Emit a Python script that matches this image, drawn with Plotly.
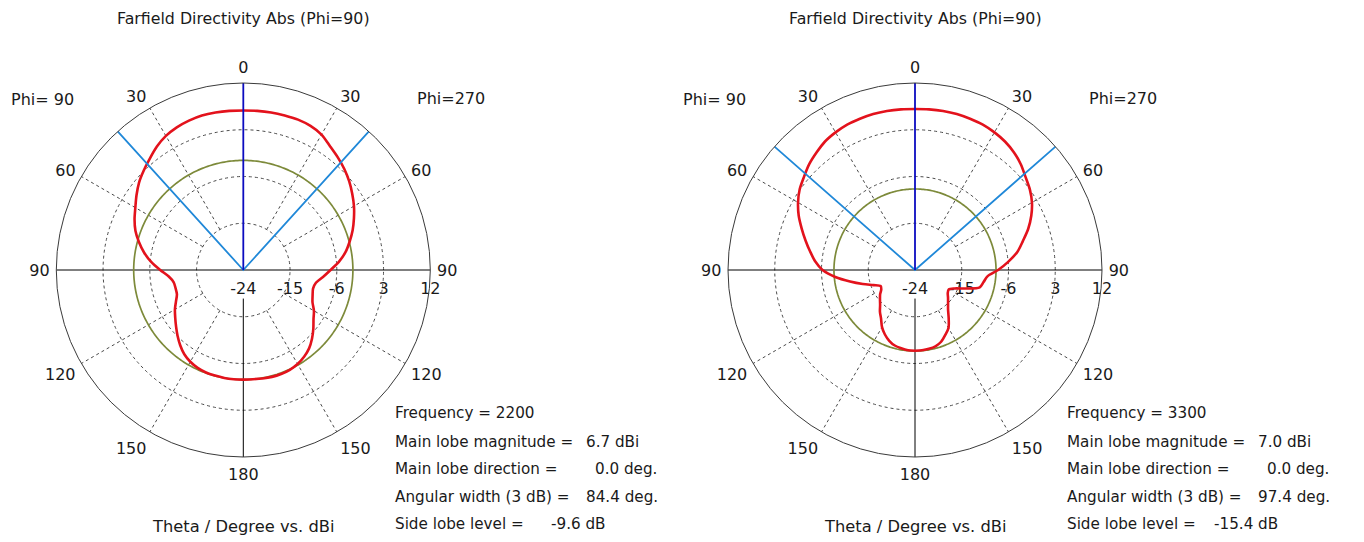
import numpy as np
import plotly.graph_objects as go

# ---------------- data ----------------
theta_deg = list(range(0, 181, 5))

# 2200 MHz, directivity (dBi) vs theta
d2200_phi270 = [6.7, 6.75, 6.8, 6.8, 6.8, 6.6, 6.1, 5.1, 4.3, 3.5, 2.6, 1.6, 0.6, -0.5, -1.6, -2.8,
                -4.0, -5.5, -7.2, -8.6, -9.8, -10.1, -9.8, -9.3, -8.3, -7.5, -6.4, -5.3, -4.3, -3.6,
                -3.1, -2.8, -2.7, -2.7, -2.8, -2.9, -2.9]
d2200_phi90 = [6.7, 6.75, 6.8, 6.8, 6.6, 6.3, 5.8, 5.0, 4.0, 3.1, 2.2, 1.1, 0.0, -0.9, -1.9, -3.2,
               -4.6, -6.2, -8.0, -9.6, -10.4, -10.5, -10.4, -9.7, -8.8, -8.0, -7.1, -6.1, -5.1, -4.2,
               -3.6, -3.2, -3.0, -2.95, -2.9, -2.9, -2.9]
# 3300 MHz
d3300_phi270 = [7.0, 7.05, 7.1, 7.1, 7.0, 6.9, 6.6, 6.2, 5.6, 4.8, 3.8, 3.0, 2.0, 0.7, -0.8, -2.5,
                -4.0, -6.0, -8.0, -10.0, -10.6, -11.1, -13.6, -15.6, -16.5, -16.3, -15.7, -15.0,
                -14.1, -12.7, -11.1, -10.2, -9.3, -8.8, -8.6, -8.5, -8.45]
d3300_phi90 = [7.0, 7.05, 7.1, 7.1, 7.0, 6.9, 6.6, 6.2, 5.5, 4.8, 3.9, 3.1, 2.0, 0.7, -0.8, -2.2,
               -3.5, -4.7, -6.2, -8.6, -11.3, -13.6, -15.5, -16.7, -16.5, -15.8, -15.2, -14.5,
               -13.5, -12.6, -11.3, -10.3, -9.5, -8.95, -8.7, -8.5, -8.45]

frequencies = [2200, 3300]
main_lobe_mag = [6.7, 7.0]
main_lobe_dir = [0.0, 0.0]
angular_width = [84.4, 97.4]
side_lobe_level = [-9.6, -15.4]

r_ticks = [-24, -15, -6, 3, 12]
r_ticktext = ["-24", "-15", "-6", "3", "12"]
ang_tickvals = [0, 30, 60, 90, 120, 150, 180, 210, 240, 270, 300, 330]
ang_ticktext = ["0", "30", "60", "90", "120", "150", "180", "150", "120", "90", "60", "30"]
spoke_angles = [30, 60, 120, 150, 210, 240, 300, 330]

series = [(d2200_phi270, d2200_phi90), (d3300_phi270, d3300_phi90)]

# ---------------- styling ----------------
W, H = 1364, 542
FONT = "DejaVu Sans"
TXT = "#1a1a1a"
RED = "#e3121c"
LBLUE = "#2088d8"
DBLUE = "#0c0cc0"
GREEN = "#7d8a3a"
GRID = "#4a4a4a"
R_MIN, R_MAX = r_ticks[0], r_ticks[-1]

centers = [243.3, 915.0]
cy = 270.0
rad = 187.0

fig = go.Figure()

for i, (right_side, left_side) in enumerate(series):
    sp = "polar" if i == 0 else "polar2"
    # dashed spokes from first inner ring outwards
    sr, st = [], []
    for a in spoke_angles:
        sr += [r_ticks[1], R_MAX, None]
        st += [a, a, None]
    fig.add_trace(go.Scatterpolar(r=sr, theta=st, mode="lines", subplot=sp,
                                  line=dict(color=GRID, width=1, dash="3px,3px"),
                                  hoverinfo="skip", showlegend=False))
    # solid axes
    fig.add_trace(go.Scatterpolar(r=[R_MAX, R_MIN, R_MAX], theta=[270, 270, 90], mode="lines",
                                  subplot=sp, line=dict(color="#000000", width=1),
                                  hoverinfo="skip", showlegend=False))
    fig.add_trace(go.Scatterpolar(r=[-18.5, R_MAX], theta=[180, 180], mode="lines",
                                  subplot=sp, line=dict(color="#000000", width=1),
                                  hoverinfo="skip", showlegend=False))
    # side lobe level circle
    circ_t = np.linspace(0, 360, 361)
    sll_abs = main_lobe_mag[i] + side_lobe_level[i]
    fig.add_trace(go.Scatterpolar(r=[sll_abs] * len(circ_t), theta=circ_t, mode="lines",
                                  subplot=sp, line=dict(color=GREEN, width=1.7),
                                  hoverinfo="skip", showlegend=False))
    # pattern
    th_r = np.array(theta_deg, dtype=float)
    th_l = 360.0 - th_r[::-1]
    r_full = list(right_side) + list(left_side[::-1])
    t_full = list(th_r) + list(th_l)
    fig.add_trace(go.Scatterpolar(r=r_full, theta=t_full, mode="lines", subplot=sp,
                                  line=dict(color=RED, width=2.6, shape="spline", smoothing=0.8),
                                  hoverinfo="skip", showlegend=False))
    # angular width lines
    hw = angular_width[i] / 2.0
    d0 = main_lobe_dir[i]
    fig.add_trace(go.Scatterpolar(r=[R_MAX, R_MIN, R_MAX], theta=[d0 - hw, d0 - hw, d0 + hw],
                                  mode="lines", subplot=sp, line=dict(color=LBLUE, width=1.8),
                                  hoverinfo="skip", showlegend=False))
    # main lobe direction
    fig.add_trace(go.Scatterpolar(r=[R_MIN, R_MAX], theta=[d0, d0], mode="lines", subplot=sp,
                                  line=dict(color=DBLUE, width=1.8),
                                  hoverinfo="skip", showlegend=False))


def polar_layout(cx):
    return dict(
        domain=dict(x=[(cx - rad) / W, (cx + rad) / W], y=[1 - (cy + rad) / H, 1 - (cy - rad) / H]),
        bgcolor="white",
        angularaxis=dict(rotation=90, direction="clockwise", tickmode="array",
                         tickvals=ang_tickvals, ticktext=ang_ticktext, showgrid=False,
                         showline=True, linecolor="#3a3a3a", linewidth=1,
                         ticks="outside", ticklen=3, tickcolor="rgba(0,0,0,0)",
                         tickfont=dict(family=FONT, size=16, color=TXT)),
        radialaxis=dict(range=[R_MIN, R_MAX], tickmode="array", tickvals=r_ticks,
                        ticktext=r_ticktext, angle=0, side="clockwise",
                        showticklabels=True, ticks="outside", ticklen=4,
                        tickcolor="rgba(0,0,0,0)", showline=False, showgrid=True,
                        tickfont=dict(family=FONT, size=16, color=TXT),
                        gridcolor=GRID, gridwidth=1, griddash="3px,3px", layer="below traces"),
    )


annotations = []


def ann(text, px, py, xanchor="center", size=16):
    annotations.append(dict(text=text, x=px / W, y=1 - py / H, xref="paper", yref="paper",
                            xanchor=xanchor, yanchor="middle", showarrow=False,
                            font=dict(family=FONT, size=size, color=TXT)))


INFO = 15.2
for i, cx in enumerate(centers):
    ann("Farfield Directivity Abs (Phi=90)", cx, 19, size=15.8)
    ann("Phi= 90", cx - 201, 100)
    ann("Phi=270", cx + 207.5, 98)
    ann("Theta / Degree vs. dBi", cx, 526.5, size=16.3)
    x0 = cx + 149.5
    ann(f"Frequency = {frequencies[i]}", x0, 413, "left", INFO)
    ann("Main lobe magnitude =", x0, 441.5, "left", INFO)
    ann(f"{main_lobe_mag[i]:.1f} dBi", x0 + 191, 441.5, "left", INFO)
    ann("Main lobe direction =", x0, 469, "left", INFO)
    ann(f"{main_lobe_dir[i]:.1f} deg.", x0 + 200, 469, "left", INFO)
    ann("Angular width (3 dB) =", x0, 497, "left", INFO)
    ann(f"{angular_width[i]:.1f} deg.", x0 + 191, 497, "left", INFO)
    ann("Side lobe level =", x0, 524, "left", INFO)
    ann(f"{side_lobe_level[i]:.1f} dB", x0 + 215, 524, "right", INFO)

fig.update_layout(
    width=W, height=H,
    margin=dict(l=0, r=0, t=0, b=0),
    paper_bgcolor="white",
    plot_bgcolor="white",
    showlegend=False,
    polar=polar_layout(centers[0]),
    polar2=polar_layout(centers[1]),
    annotations=annotations,
    font=dict(family=FONT, color=TXT),
)

fig.write_html("out.html", config={"displayModeBar": False},
               post_script="document.body.style.margin='0';")
